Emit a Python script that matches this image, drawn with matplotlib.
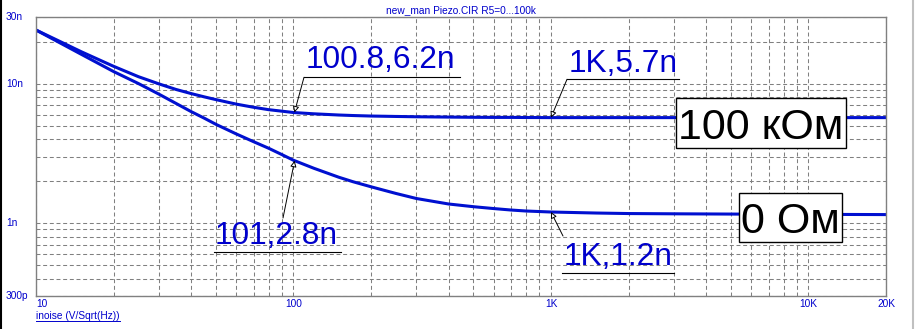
import matplotlib
matplotlib.use('Agg')
import matplotlib.pyplot as plt
from matplotlib.lines import Line2D
from matplotlib.patches import Rectangle
from matplotlib.ticker import LogLocator, NullFormatter
import matplotlib.transforms as mtransforms

plt.rcParams['font.family'] = ['Liberation Sans', 'DejaVu Sans']

# data (noise in nV/sqrt(Hz))
freq = [10, 12, 15, 20, 25, 30, 35, 40, 45, 50, 60, 70, 80, 90, 100, 120, 150,
        170, 200, 250, 300, 400, 500, 600, 700, 800, 1000, 1500, 2000, 3000,
        5000, 10000, 20000]
noise_100k = [24.2, 20.6, 16.9, 13.3, 11.2, 9.95, 9.07, 8.48, 8.03, 7.67, 7.12,
              6.76, 6.5, 6.34, 6.2, 6.07, 5.95, 5.9, 5.85, 5.81, 5.78, 5.75,
              5.73, 5.72, 5.72, 5.71, 5.7, 5.7, 5.7, 5.7, 5.7, 5.7, 5.7]
noise_0 = [24.2, 20.2, 16.2, 12.2, 10.0, 8.4, 7.2, 6.3, 5.65, 5.1, 4.35, 3.83,
           3.44, 3.1, 2.82, 2.47, 2.13, 1.98, 1.82, 1.63, 1.5, 1.37, 1.31, 1.27,
           1.24, 1.22, 1.2, 1.18, 1.17, 1.165, 1.16, 1.155, 1.15]

x_ticks = [10, 100, 1000, 10000, 20000]
x_labels = ['10', '100', '1K', '10K', '20K']
y_ticks = [3e-10, 1e-9, 1e-8, 3e-8]
y_labels = ['300p', '1n', '10n', '30n']

# cursor labels: (freq, value, text)
marks = [(100.8, 6.2e-9, '100.8,6.2n'),
         (1000, 5.7e-9, '1K,5.7n'),
         (101, 2.8e-9, '101,2.8n'),
         (1000, 1.2e-9, '1K,1.2n')]
curve_names = ['100 кОм', '0 Ом']

title = 'new_man Piezo.CIR R5=0...100k'
y_name = 'inoise (V/Sqrt(Hz))'

W, H = 917, 329
BLUE = '#0000CC'
LINE = '#0010D0'
GRID = '#808080'


def fx(x):
    return x / W


def fy(y):
    return 1 - y / H


fig = plt.figure(figsize=(W / 100, H / 100), dpi=100)
ax = fig.add_axes([fx(36), fy(296), 850 / W, 279 / H])

ax.plot(freq, [v * 1e-9 for v in noise_100k], color=LINE, lw=2.2)
ax.plot(freq, [v * 1e-9 for v in noise_0], color=LINE, lw=2.2)

ax.set_xscale('log')
ax.set_yscale('log')
ax.set_xlim(10, 20000)
ax.set_ylim(3e-10, 3e-8)
ax.xaxis.set_major_locator(LogLocator(base=10, subs=range(1, 10)))
ax.yaxis.set_major_locator(LogLocator(base=10, subs=range(1, 10)))
ax.xaxis.set_minor_locator(LogLocator(base=10, subs=[]))
ax.yaxis.set_minor_locator(LogLocator(base=10, subs=[]))
ax.xaxis.set_major_formatter(NullFormatter())
ax.yaxis.set_major_formatter(NullFormatter())
ax.tick_params(which='both', length=0)
ax.grid(True, which='major', color=GRID, ls=(0, (3.8, 2.6)), lw=0.75)
for s in ax.spines.values():
    s.set_color(GRID)
    s.set_linewidth(1.0)

# tick labels
tx = mtransforms.blended_transform_factory(ax.transData, fig.transFigure)
for i, (v, lab) in enumerate(zip(x_ticks, x_labels)):
    ax.text(v, fy(304), lab, transform=tx, color=BLUE, fontsize=7.3,
            ha='left' if i == 0 else 'center', va='center')
ty = mtransforms.blended_transform_factory(fig.transFigure, ax.transData)
for v, lab in zip(y_ticks, y_labels):
    ax.text(fx(6), v, lab, transform=ty, color=BLUE, fontsize=7.3,
            ha='left', va='center')

fig.text(fx(461), fy(10.5), title, color=BLUE, fontsize=7.3,
         ha='center', va='center')
fig.text(fx(36), fy(319), y_name, color=BLUE, fontsize=7.3,
         ha='left', va='baseline')
fig.add_artist(Line2D([fx(36), fx(120)], [fy(321), fy(321)], color=BLUE, lw=0.7))

# cursor labels with underline and arrow
text_pos = [(306, 68.3), (569, 71.7), (215, 244), (564, 265)]
under = [(304, 460, 77.3), (567, 679, 79.3), (214, 341, 252.3), (562, 674, 273)]
tails = [(304, 77.3), (567, 79.3), (283, 218), (563, 236)]
for (f, v, lab), (tx0, ty0), (u0, u1, uy), (ax0, ay0) in zip(marks, text_pos, under, tails):
    fig.text(fx(tx0), fy(ty0), lab, color=BLUE, fontsize=22.8,
             ha='left', va='baseline')
    fig.add_artist(Line2D([fx(u0), fx(u1)], [fy(uy), fy(uy)], color='black', lw=0.8))
    ax.annotate('', xy=(f, v), xycoords='data',
                xytext=(fx(ax0), fy(ay0)), textcoords='figure fraction',
                arrowprops=dict(arrowstyle='-|>', fc='white', ec='black',
                                lw=0.7, mutation_scale=9,
                                shrinkA=0, shrinkB=0))

# boxed curve names
boxes = [(676, 98.3, 845.7, 148.3), (739.3, 192.7, 841.7, 242.3)]
for name, (x0, y0, x1, y1) in zip(curve_names, boxes):
    fig.add_artist(Rectangle((fx(x0), fy(y1)), (x1 - x0) / W, (y1 - y0) / H,
                             transform=fig.transFigure, fc='white', ec='black',
                             lw=1.0, zorder=5))
    fig.text(fx((x0 + x1) / 2), fy((y0 + y1) / 2), name, color='black',
             fontsize=31, ha='center', va='center_baseline', zorder=6)

# window borders
fig.add_artist(Line2D([fx(1), fx(1)], [0, 1], color='black', lw=1.5))
fig.add_artist(Line2D([fx(913), fx(913)], [0, 1], color='#C0C0C0', lw=1.5))

fig.savefig('out.png', dpi=100)
